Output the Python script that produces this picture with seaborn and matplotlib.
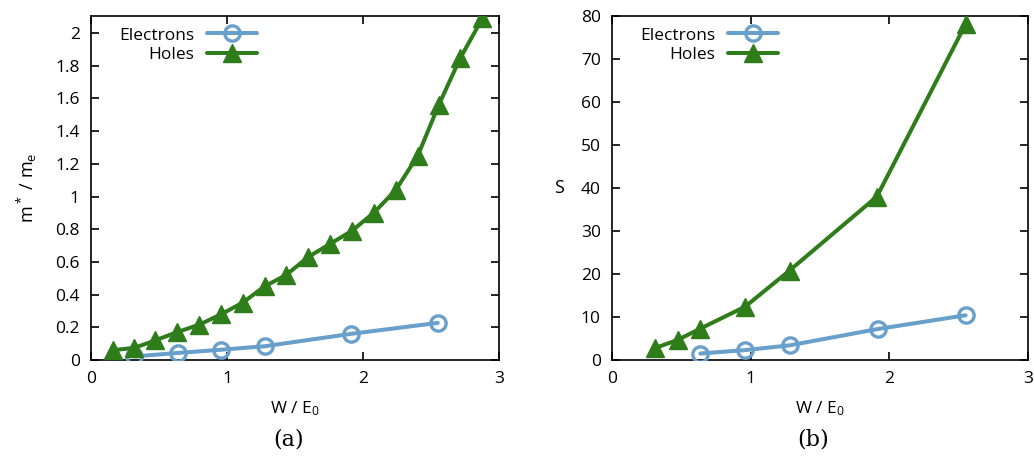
import numpy as np
import pandas as pd
import matplotlib
matplotlib.use("Agg")
import matplotlib.pyplot as plt
import seaborn as sns

# ---- data ----
holes_a_x = [0.159, 0.318, 0.473, 0.632, 0.796, 0.958, 1.114, 1.276, 1.435, 1.597,
             1.758, 1.918, 2.079, 2.241, 2.403, 2.557, 2.714, 2.878]
holes_a_y = [0.06, 0.074, 0.12, 0.17, 0.216, 0.28, 0.35, 0.45, 0.52, 0.63,
             0.71, 0.79, 0.90, 1.04, 1.25, 1.56, 1.845, 2.09]
elec_a_x = [0.318, 0.639, 0.958, 1.276, 1.913, 2.55]
elec_a_y = [0.022, 0.043, 0.063, 0.084, 0.16, 0.227]

holes_b_x = [0.3125, 0.476, 0.637, 0.96, 1.28, 1.91, 2.55]
holes_b_y = [2.8, 4.7, 7.3, 12.4, 20.8, 38.0, 78.1]
elec_b_x = [0.637, 0.96, 1.28, 1.916, 2.55]
elec_b_y = [1.5, 2.3, 3.4, 7.2, 10.4]

x_ticks = [0, 1, 2, 3]
ya_ticks = [0, 0.2, 0.4, 0.6, 0.8, 1, 1.2, 1.4, 1.6, 1.8, 2]
yb_ticks = [0, 10, 20, 30, 40, 50, 60, 70, 80]

BLUE = "#689fcb"
GREEN = "#2e7d1a"

sns.set_theme(style="ticks")
plt.rcParams["font.family"] = ["Open Sans", "DejaVu Sans"]
plt.rcParams["mathtext.default"] = "regular"
plt.rcParams["axes.linewidth"] = 1.2
plt.rcParams["text.color"] = "black"
plt.rcParams["axes.labelcolor"] = "black"

fig = plt.figure(figsize=(10.34, 4.58), dpi=100)
axa = fig.add_axes([0.088, 0.214, 0.3946, 0.751])
axb = fig.add_axes([0.5919, 0.214, 0.4023, 0.751])

FS = 12.5

def draw(ax, ex, ey, hx, hy, leg_x):
    de = pd.DataFrame({"x": ex, "y": ey})
    dh = pd.DataFrame({"x": hx, "y": hy})
    sns.lineplot(data=de, x="x", y="y", ax=ax, color=BLUE, lw=2.9, marker="o",
                 ms=11, mfc="none", mec=BLUE, mew=2.4, sort=False,
                 label="Electrons", zorder=3)
    sns.lineplot(data=dh, x="x", y="y", ax=ax, color=GREEN, lw=2.9, marker="^",
                 ms=13, mfc=GREEN, mec=GREEN, mew=1.0, sort=False,
                 label="Holes", zorder=4)
    ax.tick_params(direction="in", length=6, width=1.2, top=True, right=True,
                   labelsize=12.5, pad=8, colors="black")
    for s in ax.spines.values():
        s.set_color("black")
    leg = ax.legend(loc="upper right", frameon=False, markerfirst=False,
                    handlelength=2.9, fontsize=FS, labelspacing=0.17,
                    bbox_to_anchor=(leg_x, 0.967), borderaxespad=0.0,
                    borderpad=0.0, handletextpad=0.7)
    for t in leg.get_texts():
        t.set_ha("right")
    leg._legend_box.align = "right"
    ax.set_xlabel(r"W / E$_0$", fontsize=FS, labelpad=9)
    ax.set_xlim(0, 3)
    ax.set_xticks(x_ticks)
    ax.set_xticklabels([str(v) for v in x_ticks])

draw(axa, elec_a_x, elec_a_y, holes_a_x, holes_a_y, 0.407)
draw(axb, elec_b_x, elec_b_y, holes_b_x, holes_b_y, 0.399)

axa.set_ylim(0, 2.104)
axa.set_yticks(ya_ticks)
axa.set_yticklabels([("%g" % v) for v in ya_ticks])
axa.set_ylabel(r"m$^*$ / m$_e$", fontsize=13, labelpad=12)

axb.set_ylim(0, 80)
axb.set_yticks(yb_ticks)
axb.set_yticklabels([str(v) for v in yb_ticks])
axb.set_ylabel("S", fontsize=13, labelpad=16, rotation=0, va="center")

fig.text(0.279, 0.040, "(a)", family=["DejaVu Serif"], fontsize=16, ha="center", va="center")
fig.text(0.786, 0.040, "(b)", family=["DejaVu Serif"], fontsize=16, ha="center", va="center")

fig.savefig("out.png", dpi=100)
